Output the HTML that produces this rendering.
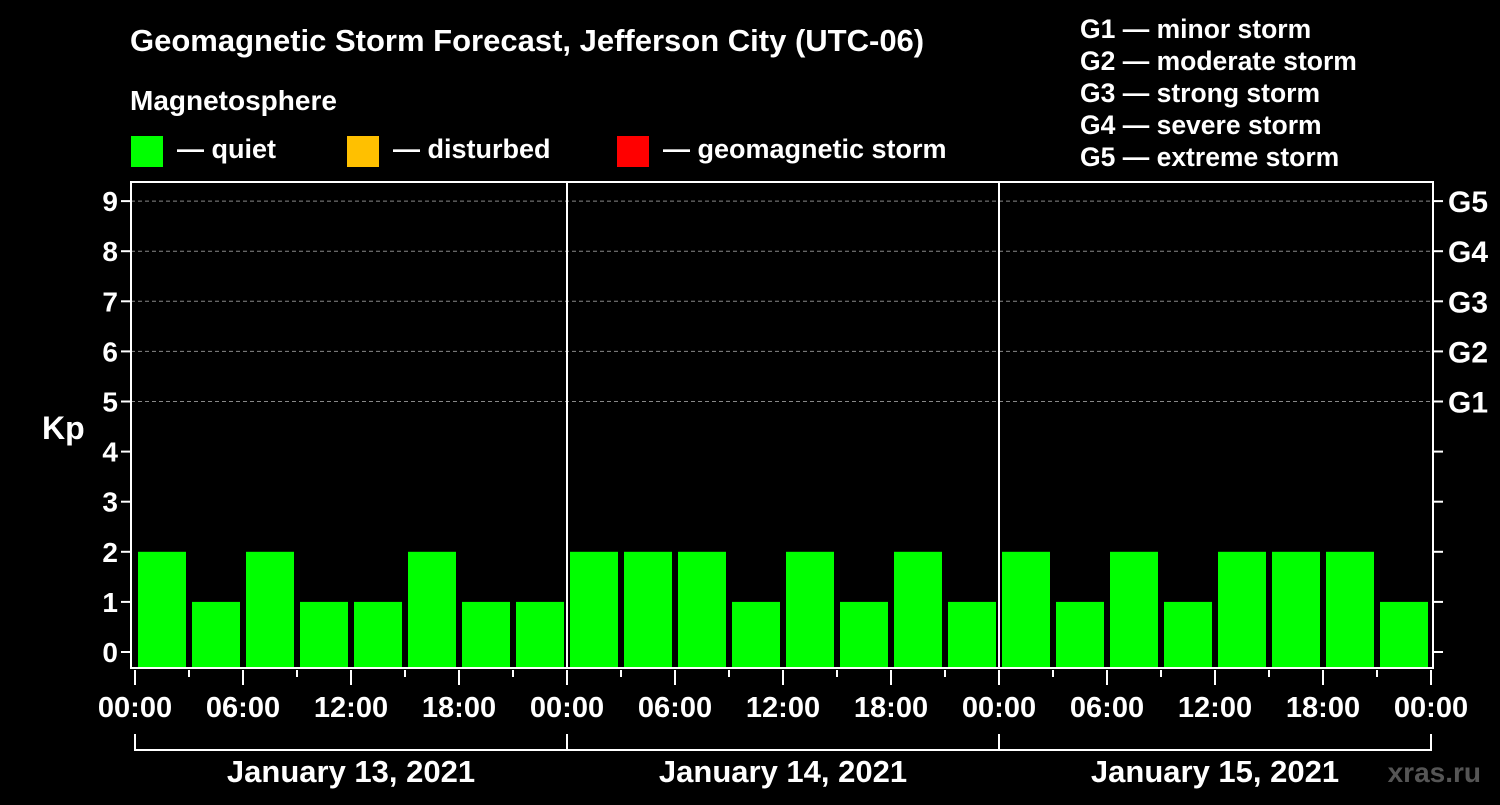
<!DOCTYPE html>
<html><head><meta charset="utf-8"><style>
body{margin:0;background:#000;width:1500px;height:800px;overflow:hidden}
svg text{font-family:"Liberation Sans",sans-serif;font-weight:bold;fill:#fff}
</style></head><body>
<svg id="c" width="1500" height="800">
<rect width="1500" height="800" fill="#000"/>
<text x="130" y="51" font-size="31">Geomagnetic Storm Forecast, Jefferson City (UTC-06)</text>
<text x="130" y="110" font-size="28">Magnetosphere</text>
<g><rect x="131" y="136" width="32" height="31" fill="#00ff00"/><text x="177" y="158" font-size="27">— quiet</text></g>
<g><rect x="347" y="136" width="32" height="31" fill="#ffc000"/><text x="393" y="158" font-size="27">— disturbed</text></g>
<g><rect x="617" y="136" width="32" height="31" fill="#ff0000"/><text x="663" y="158" font-size="27">— geomagnetic storm</text></g>
<g font-size="26.5">
<text x="1080" y="38">G1 — minor storm</text><text x="1080" y="70">G2 — moderate storm</text><text x="1080" y="102">G3 — strong storm</text><text x="1080" y="134">G4 — severe storm</text><text x="1080" y="166">G5 — extreme storm</text></g>
<text x="42" y="439" font-size="32">Kp</text>
<text x="1481" y="782" font-size="28" text-anchor="end" style="fill:#555">xras.ru</text>
<g id="plot"></g>
</svg>
<script>
const kpValues=[2,1,2,1,1,2,1,1, 2,2,2,1,2,1,2,1, 2,1,2,1,2,2,2,1];
const dayLabels=["January 13, 2021","January 14, 2021","January 15, 2021"];
const hourLabels=["00:00","06:00","12:00","18:00"];
const yTicks=[0,1,2,3,4,5,6,7,8,9];
const gLabels=["G1","G2","G3","G4","G5"];
const NS="http://www.w3.org/2000/svg";
const g=document.getElementById('plot');
const X0=135,DAY=432,L=131,R=1433,T=182,B=668;
const xs=h=>X0+h*DAY/24;
const ys=k=>652-50.1*k;
function mk(t,a,txt){const e=document.createElementNS(NS,t);for(const k in a)e.setAttribute(k,a[k]);if(txt!=null)e.textContent=txt;g.appendChild(e);return e;}
yTicks.forEach(k=>{
 if(k>=5){const e=mk('line',{x1:L,x2:R,y1:ys(k),y2:ys(k),stroke:'#888','stroke-dasharray':'4,3','stroke-width':1});
 
 }
 const t=mk('line',{x1:L-10,x2:L,y1:ys(k),y2:ys(k),stroke:'#fff','stroke-width':2});
 
 
 const t2=mk('line',{x1:R,x2:R+10,y1:ys(k),y2:ys(k),stroke:'#fff','stroke-width':2});
 
 
 const l=mk('text',{x:L-13,y:ys(k)+10,'font-size':28,'text-anchor':'end'},String(k));
 
 
});
gLabels.forEach((s,i)=>{const l=mk('text',{x:1448,y:ys(5+i)+11,'font-size':30},s);
 
 });
kpValues.forEach((v,i)=>{
 const x=xs(i*3)+3,w=xs(3)-xs(0)-6;
 const c=v>=5?'#ff0000':(v>=4?'#ffc000':'#00ff00');
 const r=mk('rect',{x:x,y:ys(v),width:w,height:B-ys(v),fill:c});
 
 
});
[1,2].forEach(d=>{const e=mk('line',{x1:xs(24*d),x2:xs(24*d),y1:T,y2:B,stroke:'#fff','stroke-width':2});
 
 });
const f=mk('rect',{x:L,y:T,width:R-L,height:B-T,fill:'none',stroke:'#fff','stroke-width':2});


for(let h=0;h<=72;h+=3){
 const major=h%6===0;
 const e=mk('line',{x1:xs(h),x2:xs(h),y1:B+2,y2:major?B+17:B+9,stroke:'#fff','stroke-width':2});
 
 
 if(major){const t=mk('text',{x:xs(h),y:717,'font-size':29,'text-anchor':'middle'},hourLabels[(h/6)%4]);
 
 }
}
dayLabels.forEach((s,d)=>{
 const p=mk('path',{d:`M${xs(24*d)},734V750H${xs(24*d+24)}V734`,fill:'none',stroke:'#fff','stroke-width':2});
 
 
 const t=mk('text',{x:xs(24*d+12),y:782,'font-size':31,'text-anchor':'middle'},s);
 
 
});
</script>
</body></html>
